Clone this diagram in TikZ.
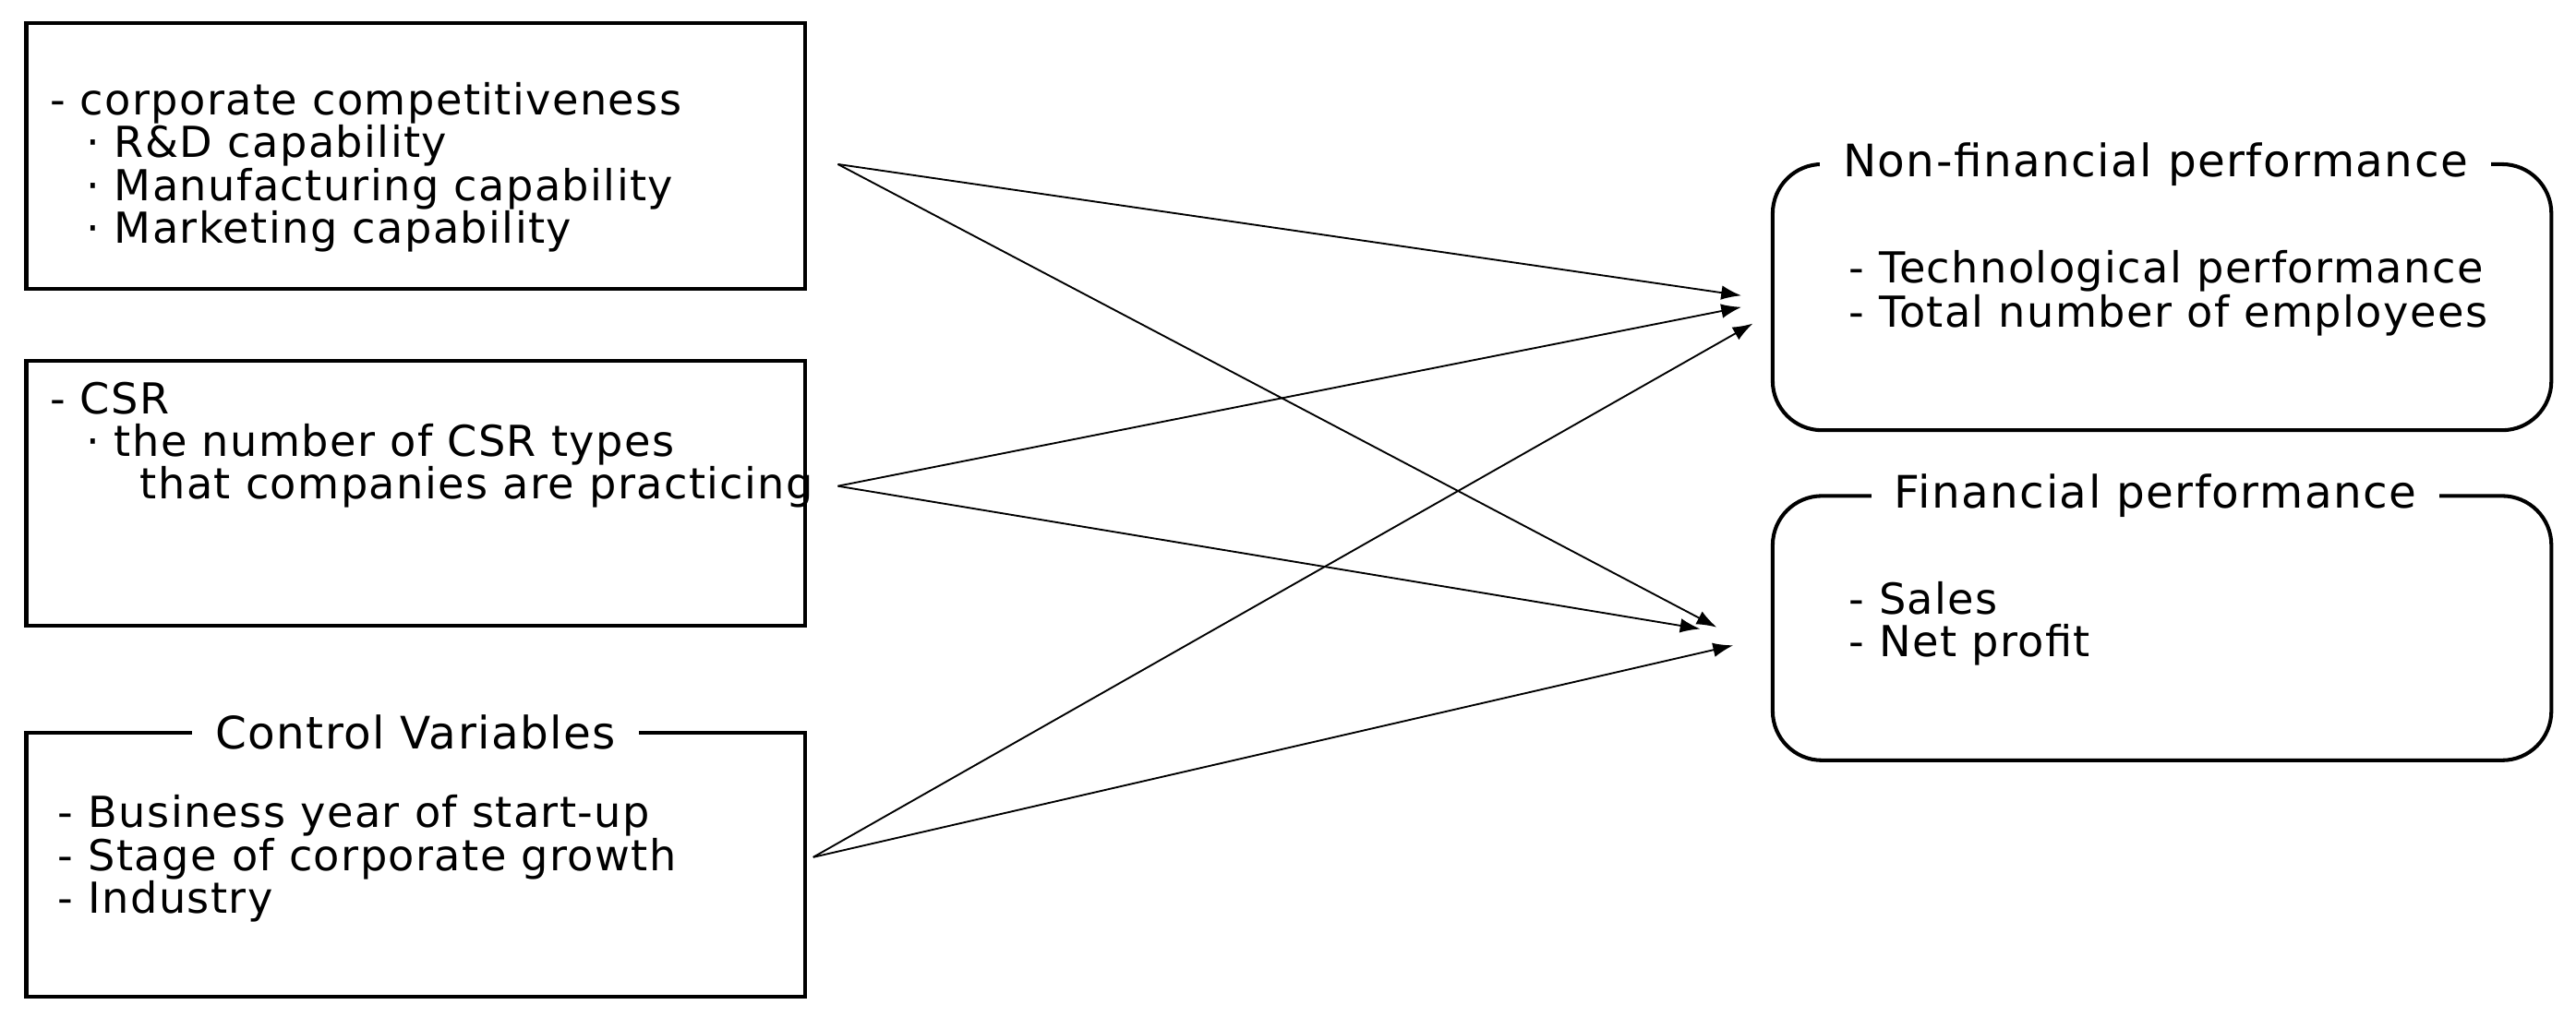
\documentclass[tikz,border=0pt]{standalone}
\usepackage{fontspec}
\setmainfont{DejaVu Sans}[LetterSpace=3]
\usetikzlibrary{arrows.meta}
\begin{document}
\begin{tikzpicture}[x=0.02cm,y=-0.02cm,
  box/.style={draw,line width=1.3pt},
  rbox/.style={draw,line width=1.3pt,rounded corners=0.6cm},
  t/.style={anchor=base west,inner sep=0pt,font=\fontsize{14.8pt}{18pt}\selectfont},
  ttl/.style={fill=white,inner xsep=8pt,inner ysep=3pt,font=\fontsize{15.5pt}{20pt}\selectfont},
  arr/.style={-{Latex[length=7pt,width=5pt]},line width=0.6pt}]
\useasboundingbox (0,0) rectangle (1568,619.3);
\draw[box] (16,14) rectangle (490,176);
\draw[box] (16,220) rectangle (490,381);
\draw[box] (16,446) rectangle (490,607);
\draw[rbox] (1079,100) rectangle (1553,262);
\draw[rbox] (1079,302) rectangle (1553,463);
\node[ttl] (cv) at (253,446) {Control Variables};
\node[ttl] (nf) at (1312,100) {Non-financial performance};
\node[ttl] (fp) at (1312,302) {Financial performance};
\node[t] (a1) at (30,70) {- corporate competitiveness};
\node[t] (a2) at (52,96) {· R\&D capability};
\node[t] (a3) at (52,122) {· Manufacturing capability};
\node[t] (a4) at (52,148) {· Marketing capability};
\node[t] (b1) at (30,252) {- CSR};
\node[t] (b2) at (52,278) {· the number of CSR types};
\node[t] (b3) at (85,304) {that companies are practicing};
\node[t] (c1) at (35,504) {- Business year of start-up};
\node[t] (c2) at (35,530) {- Stage of corporate growth};
\node[t] (c3) at (35,556) {- Industry};
\node[t] (d1) at (1125,172) {- Technological performance};
\node[t] (d2) at (1125,199) {- Total number of employees};
\node[t] (e1) at (1125,374) {- Sales};
\node[t] (e2) at (1125,400) {- Net profit};
\coordinate (s1) at (510,100);
\coordinate (s2) at (510,296);
\coordinate (s3) at (495,522);
\coordinate (n1) at (1060,180);
\coordinate (n2) at (1060,187);
\coordinate (n3) at (1067,197);
\coordinate (f1) at (1045,382);
\coordinate (f2) at (1035,383);
\coordinate (f3) at (1055,393);
\draw[arr] (s1) -- (n1);
\draw[arr] (s1) -- (f1);
\draw[arr] (s2) -- (n2);
\draw[arr] (s2) -- (f2);
\draw[arr] (s3) -- (n3);
\draw[arr] (s3) -- (f3);
\end{tikzpicture}
\end{document}
